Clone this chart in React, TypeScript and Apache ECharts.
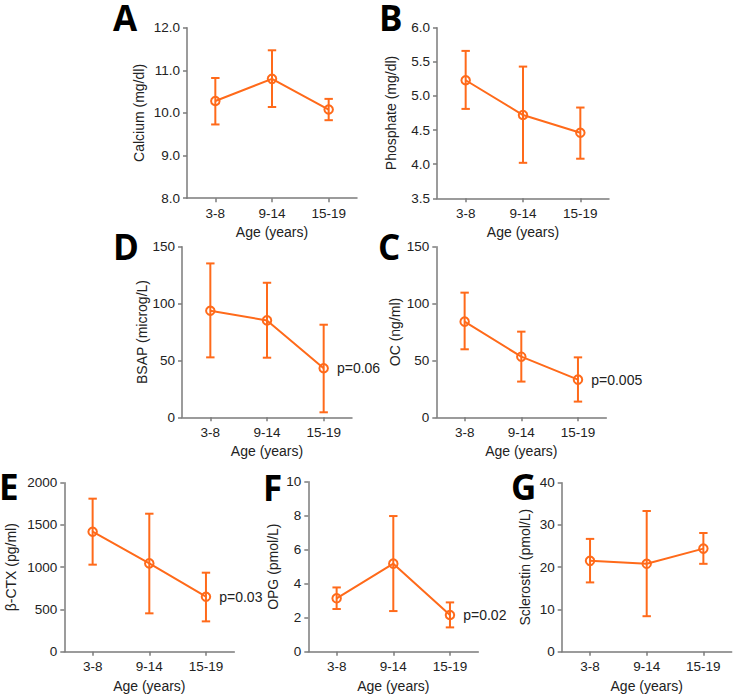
import React, { useEffect, useRef } from "react";
import * as echarts from "echarts";

const categories = ["3-8", "9-14", "15-19"];

const calciumMean = [10.28, 10.8, 10.08];
const calciumLow = [9.73, 10.14, 9.83];
const calciumHigh = [10.82, 11.47, 10.33];

const phosphateMean = [5.23, 4.72, 4.46];
const phosphateLow = [4.81, 4.02, 4.08];
const phosphateHigh = [5.66, 5.43, 4.83];

const bsapMean = [93.7, 85.2, 43.1];
const bsapLow = [52.7, 52.4, 4.4];
const bsapHigh = [135.3, 118.3, 81.4];

const ocMean = [84.1, 53.3, 33.1];
const ocLow = [59.8, 31.4, 13.8];
const ocHigh = [109.6, 75.3, 52.7];

const ctxMean = [1420, 1045, 651];
const ctxLow = [1030, 454, 359];
const ctxHigh = [1811, 1633, 935];

const opgMean = [3.14, 5.18, 2.16];
const opgLow = [2.51, 2.39, 1.43];
const opgHigh = [3.78, 7.98, 2.9];

const sclMean = [21.5, 20.8, 24.4];
const sclLow = [16.4, 8.4, 20.8];
const sclHigh = [26.7, 33.3, 28.1];

const xAxisTitle = "Age (years)";

const ORANGE = "#FF6A1A";
const AXIS = "#7b7b7b";
const TEXT = "#222222";
const FONT = "'Liberation Sans', Arial, sans-serif";

type Panel = {
  letter: string;
  yName: string;
  mean: number[];
  low: number[];
  high: number[];
  min: number;
  max: number;
  interval: number;
  decimals: number;
  pText?: string;
  left: number;
  top: number;
  width: number;
  height: number;
  nameGap: number;
  lx: number;
  capTop: number;
};

const panels: Panel[] = [
  { letter: "A", yName: "Calcium (mg/dl)", mean: calciumMean, low: calciumLow, high: calciumHigh, min: 8, max: 12, interval: 1, decimals: 1, left: 187, top: 27.7, width: 170, height: 170.5, nameGap: 41, lx: 113, capTop: 1.7 },
  { letter: "B", yName: "Phosphate (mg/dl)", mean: phosphateMean, low: phosphateLow, high: phosphateHigh, min: 3.5, max: 6, interval: 0.5, decimals: 1, left: 437, top: 27.7, width: 172, height: 170.6, nameGap: 39.5, lx: 379, capTop: 1.7 },
  { letter: "D", yName: "BSAP (microg/L)", mean: bsapMean, low: bsapLow, high: bsapHigh, min: 0, max: 150, interval: 50, decimals: 0, pText: "p=0.06", left: 182, top: 246.7, width: 170, height: 170.6, nameGap: 32, lx: 113, capTop: 230.5 },
  { letter: "C", yName: "OC (ng/ml)", mean: ocMean, low: ocLow, high: ocHigh, min: 0, max: 150, interval: 50, decimals: 0, pText: "p=0.005", left: 436.3, top: 246.7, width: 170, height: 170.6, nameGap: 34.5, lx: 378, capTop: 230.5 },
  { letter: "E", yName: "β-CTX (pg/ml)", mean: ctxMean, low: ctxLow, high: ctxHigh, min: 0, max: 2000, interval: 500, decimals: 0, pText: "p=0.03", left: 64.3, top: 482.7, width: 170, height: 169, nameGap: 46, lx: -1, capTop: 470 },
  { letter: "F", yName: "OPG (pmol/L)", mean: opgMean, low: opgLow, high: opgHigh, min: 0, max: 10, interval: 2, decimals: 0, pText: "p=0.02", left: 308.3, top: 481.7, width: 170, height: 170, nameGap: 28.5, lx: 263, capTop: 471 },
  { letter: "G", yName: "Sclerostin (pmol/L)", mean: sclMean, low: sclLow, high: sclHigh, min: 0, max: 40, interval: 10, decimals: 0, left: 561.7, top: 482.7, width: 170, height: 169, nameGap: 30, lx: 511, capTop: 470 },
];

function buildOption() {
  const grid: any[] = [];
  const xAxis: any[] = [];
  const yAxis: any[] = [];
  const series: any[] = [];
  const graphic: any[] = [];

  panels.forEach((p, i) => {
    grid.push({ left: p.left, top: p.top, width: p.width, height: p.height, containLabel: false });
    xAxis.push({
      type: "category",
      gridIndex: i,
      data: categories,
      boundaryGap: true,
      name: xAxisTitle,
      nameLocation: "middle",
      nameGap: 27,
      nameTextStyle: { color: TEXT, fontFamily: FONT, fontSize: 14 },
      axisLine: { show: true, lineStyle: { color: AXIS, width: 1.5 } },
      axisTick: { show: true, alignWithLabel: true, length: 4, lineStyle: { color: AXIS, width: 1.5 } },
      axisLabel: { color: TEXT, fontFamily: FONT, fontSize: 13.5, margin: 8 },
      splitLine: { show: false },
    });
    yAxis.push({
      type: "value",
      gridIndex: i,
      min: p.min,
      max: p.max,
      interval: p.interval,
      name: p.yName,
      nameLocation: "middle",
      nameGap: p.nameGap,
      nameRotate: 90,
      nameTextStyle: { color: TEXT, fontFamily: FONT, fontSize: 14 },
      axisLine: { show: true, lineStyle: { color: AXIS, width: 1.5 } },
      axisTick: { show: true, length: 4, lineStyle: { color: AXIS, width: 1.5 } },
      axisLabel: {
        color: TEXT,
        fontFamily: FONT,
        fontSize: 13.5,
        margin: 7,
        formatter: (v: number) => v.toFixed(p.decimals),
      },
      splitLine: { show: false },
    });
    const errData = categories.map((_, k) => [k, p.low[k], p.high[k]]);
    series.push({
      type: "custom",
      xAxisIndex: i,
      yAxisIndex: i,
      data: errData,
      z: 2,
      renderItem: (params: any, api: any) => {
        const idx = api.value(0);
        const lo = api.coord([idx, api.value(1)]);
        const hi = api.coord([idx, api.value(2)]);
        const cap = 4.2;
        const st = { stroke: ORANGE, lineWidth: 2 };
        return {
          type: "group",
          children: [
            { type: "line", shape: { x1: lo[0], y1: lo[1], x2: hi[0], y2: hi[1] }, style: st },
            { type: "line", shape: { x1: lo[0] - cap, y1: lo[1], x2: lo[0] + cap, y2: lo[1] }, style: st },
            { type: "line", shape: { x1: hi[0] - cap, y1: hi[1], x2: hi[0] + cap, y2: hi[1] }, style: st },
          ],
        };
      },
    });
    series.push({
      type: "line",
      xAxisIndex: i,
      yAxisIndex: i,
      z: 3,
      data: p.mean.map((v, k) =>
        k === p.mean.length - 1 && p.pText
          ? {
              value: v,
              label: {
                show: true,
                position: "right",
                distance: 8,
                formatter: p.pText,
                color: TEXT,
                fontFamily: FONT,
                fontSize: 14,
              },
            }
          : v
      ),
      symbol: "circle",
      symbolSize: 8.5,
      itemStyle: { color: "rgba(255,255,255,0)", borderColor: ORANGE, borderWidth: 2 },
      lineStyle: { color: ORANGE, width: 2 },
    });
    graphic.push({
      type: "text",
      left: p.lx,
      top: p.capTop - 1.3,
      style: {
        text: p.letter,
        font: "bold 35px 'Open Sans', 'Liberation Sans', sans-serif",
        lineHeight: 26,
        fill: "#000",
      },
    });
  });

  return { animation: false, backgroundColor: "#fff", grid, xAxis, yAxis, series, graphic };
}

export default function App() {
  const ref = useRef<HTMLDivElement>(null);
  useEffect(() => {
    if (!ref.current) return;
    const chart = echarts.init(ref.current, undefined, { renderer: "svg" });
    chart.setOption(buildOption() as any);
    return () => chart.dispose();
  }, []);
  return (
    <div
      ref={ref}
      style={{ position: "absolute", left: 0, top: 0, width: 734, height: 694 }}
    />
  );
}
